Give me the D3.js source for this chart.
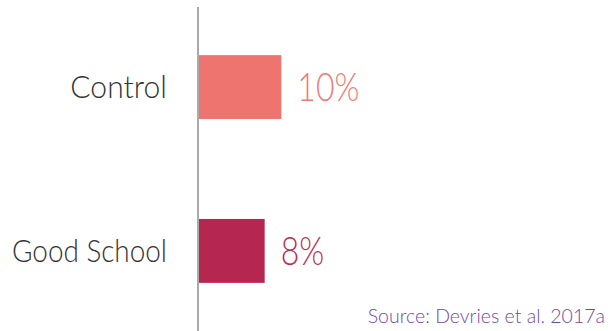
<!DOCTYPE html>
<html>
<head>
<meta charset="utf-8">
<script src="https://cdn.jsdelivr.net/npm/d3@7"></script>
<style>
  html, body { margin: 0; padding: 0; background: #fff; }
  svg { display: block; }
  text { font-family: Lato, "Open Sans", sans-serif; font-weight: 300; }
</style>
</head>
<body>
<svg id="chart" width="608" height="331"></svg>
<script>
// Share of students, by study arm
const categories = ["Control", "Good School"];
const values = [10, 8];
const valueLabels = ["10%", "8%"];
const barColors = ["#ee7470", "#b52650"];
const labelColors = ["#f07b76", "#bd2d57"];
const sourceNote = "Source: Devries et al. 2017a";

const W = 608, H = 331;
const x0 = 198;

const svg = d3.select("#chart");

const x = d3.scaleLinear().domain([0, 48]).range([x0, x0 + 400]);
const y = d3.scaleBand().domain(categories).range([6, 332])
  .paddingInner(0.61).paddingOuter(0.3);

// Light typeface is drawn a little condensed
function condense(sel, ratio) {
  sel.each(function (d, i) {
    const r = typeof ratio === "function" ? ratio(d, i) : ratio;
    const w = this.getComputedTextLength();
    d3.select(this).attr("textLength", w * r).attr("lengthAdjust", "spacingAndGlyphs");
  });
}

// bars
svg.selectAll("rect.bar")
  .data(categories)
  .join("rect")
  .attr("class", "bar")
  .attr("x", x(0))
  .attr("y", d => y(d))
  .attr("width", (d, i) => x(values[i]) - x(0))
  .attr("height", y.bandwidth())
  .attr("fill", (d, i) => barColors[i]);

// value labels
svg.selectAll("text.val")
  .data(categories)
  .join("text")
  .attr("class", "val")
  .attr("x", (d, i) => x(values[i]) + 16)
  .attr("y", d => y(d) + y.bandwidth() / 2 + 14)
  .attr("font-size", 39)
  .attr("fill", (d, i) => labelColors[i])
  .text((d, i) => valueLabels[i])
  .call(condense, 0.82);

// category axis (line only, no ticks)
const axis = d3.axisLeft(y).tickSize(0).tickPadding(31);
const gAxis = svg.append("g").attr("transform", `translate(${x0},0)`).call(axis);
gAxis.select(".domain").attr("stroke", "#aaaaaa").attr("stroke-width", 2)
  .attr("d", `M0,7V${H}`);
gAxis.selectAll(".tick text")
  .attr("font-family", "Lato, 'Open Sans', sans-serif")
  .attr("font-weight", 300)
  .attr("font-size", 31)
  .attr("fill", "#333")
  .attr("dy", "0.35em")
  .call(condense, (d, i) => (i === 0 ? 0.97 : 0.9));

// source note
svg.append("text")
  .attr("x", W - 3)
  .attr("y", 323)
  .attr("text-anchor", "end")
  .attr("font-size", 19.5)
  .attr("fill", "#7748a8")
  .text(sourceNote);
</script>
</body>
</html>
